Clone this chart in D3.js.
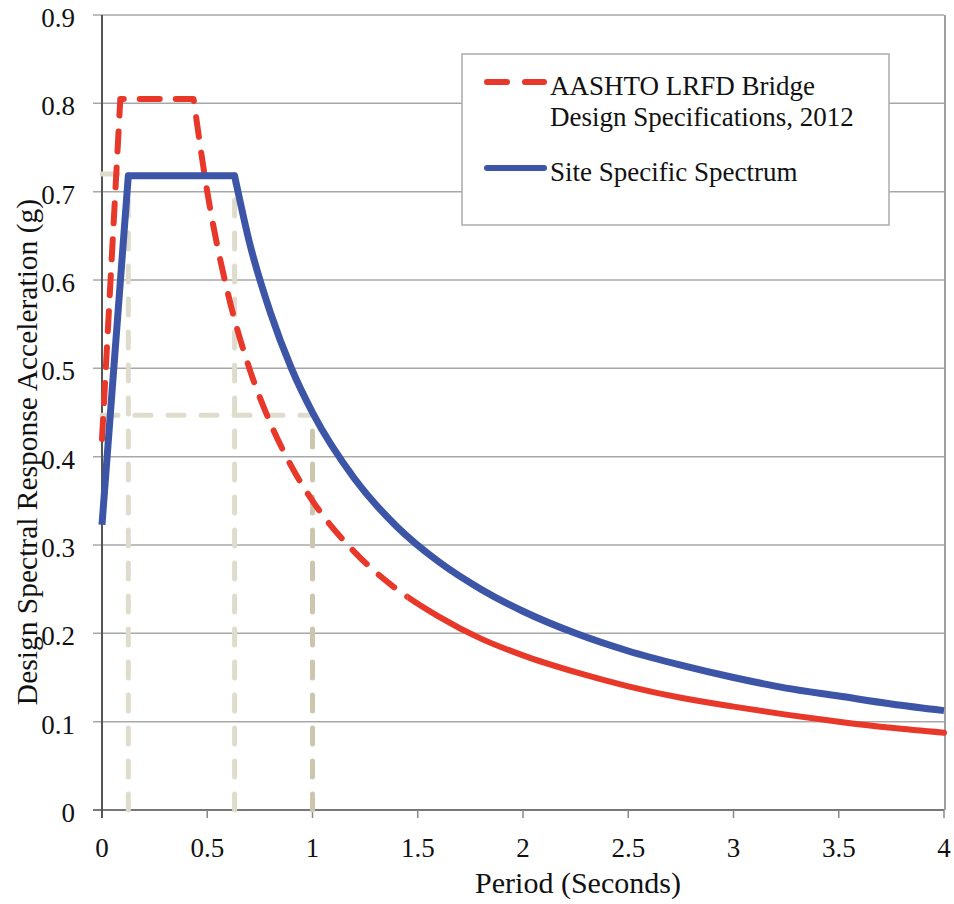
<!DOCTYPE html>
<html>
<head>
<meta charset="utf-8">
<script src="https://cdn.jsdelivr.net/npm/d3@7"></script>
<style>
  body { margin: 0; background: #fff; }
  svg text { font-family: "Liberation Serif", "Times New Roman", serif; fill: #111; }
</style>
</head>
<body>
<div id="chart"></div>
<script>
// Values
const aashtoPeriod = [0, 0.087, 0.435, 0.5, 0.6, 0.7, 0.8, 0.9, 1.0, 1.2, 1.4, 1.6, 1.8, 2.0, 2.25, 2.5, 2.75, 3.0, 3.25, 3.5, 3.75, 4.0];
const aashtoAccel = [0.42, 0.805, 0.805, 0.70, 0.583, 0.50, 0.438, 0.389, 0.35, 0.292, 0.25, 0.219, 0.194, 0.175, 0.156, 0.14, 0.127, 0.117, 0.108, 0.10, 0.093, 0.0875];
const sitePeriod = [0, 0.125, 0.63, 0.7, 0.8, 0.9, 1.0, 1.2, 1.4, 1.6, 1.8, 2.0, 2.25, 2.5, 2.75, 3.0, 3.25, 3.5, 3.75, 4.0];
const siteAccel = [0.323, 0.718, 0.718, 0.643, 0.563, 0.50, 0.45, 0.375, 0.321, 0.281, 0.25, 0.225, 0.20, 0.18, 0.164, 0.15, 0.138, 0.129, 0.12, 0.1125];

// grey reference guides: [x1, y1, x2, y2]
const guideLines = [
  { pts: [0.125, 0, 0.125, 0.72], color: '#dfdccd' },
  { pts: [0.63, 0, 0.63, 0.72], color: '#dfdccd' },
  { pts: [1.0, 0, 1.0, 0.447], color: '#cbc6ad' },
  { pts: [0, 0.447, 1.0, 0.447], color: '#dfdccd' },
  { pts: [0, 0.72, 0.125, 0.72], color: '#dfdccd' }
];

const xTicks = [0, 0.5, 1, 1.5, 2, 2.5, 3, 3.5, 4];
const yTicks = [0, 0.1, 0.2, 0.3, 0.4, 0.5, 0.6, 0.7, 0.8, 0.9];

const legendItems = [
  { lines: ['AASHTO LRFD Bridge', 'Design Specifications, 2012'], color: '#e8382a', dashed: true },
  { lines: ['Site Specific Spectrum'], color: '#3c55a7', dashed: false }
];

const W = 954, H = 904;
const margin = { top: 15, left: 102, right: 10, bottom: 94 };
const width = 842, height = 795;

const svg = d3.select('#chart').append('svg')
  .attr('width', W).attr('height', H);

const g = svg.append('g')
  .attr('transform', `translate(${margin.left},${margin.top})`);

const x = d3.scaleLinear().domain([0, 4]).range([0, width]);
const y = d3.scaleLinear().domain([0, 0.9]).range([height, 0]);

// Horizontal gridlines with little outer ticks on the left
g.append('g').selectAll('line').data(yTicks).join('line')
  .attr('x1', -9).attr('x2', width)
  .attr('y1', d => y(d)).attr('y2', d => y(d))
  .attr('stroke', d => d === 0 ? '#777' : '#a8a8a8')
  .attr('stroke-width', d => d === 0 ? 2 : 1.5);

// right border of plot area
g.append('line')
  .attr('x1', width + 1).attr('x2', width + 1)
  .attr('y1', 0).attr('y2', height)
  .attr('stroke', '#a0a0a0').attr('stroke-width', 2);

// x-axis ticks (down)
g.append('g').selectAll('line').data(xTicks).join('line')
  .attr('x1', d => x(d)).attr('x2', d => x(d))
  .attr('y1', height).attr('y2', height + 8)
  .attr('stroke', '#888').attr('stroke-width', 1.5);

// y axis line
g.append('line')
  .attr('x1', 0).attr('x2', 0)
  .attr('y1', 0).attr('y2', height + 8)
  .attr('stroke', '#555').attr('stroke-width', 2);

// Tick labels
g.append('g').selectAll('text').data(yTicks).join('text')
  .attr('x', -27).attr('y', d => y(d)).attr('dy', '0.45em')
  .attr('text-anchor', 'end')
  .style('font-size', '27px')
  .text(d => d === 0 ? '0' : d.toFixed(1));

g.append('g').selectAll('text').data(xTicks).join('text')
  .attr('x', d => x(d)).attr('y', height + 47)
  .attr('text-anchor', 'middle')
  .style('font-size', '27px')
  .text(d => d3.format('')(d));

// Guide lines
g.append('g').selectAll('line').data(guideLines).join('line')
  .attr('x1', d => x(d.pts[0])).attr('y1', d => y(d.pts[1]))
  .attr('x2', d => x(d.pts[2])).attr('y2', d => y(d.pts[3]))
  .attr('stroke', d => d.color)
  .attr('stroke-width', 5)
  .attr('stroke-dasharray', '16,17')
  .attr('stroke-linecap', 'round');

// Curves: linear rise and plateau, smooth decay after the plateau
function drawSpectrum(periods, accels, plateauEnd, style) {
  const pts = periods.map((p, i) => [p, accels[i]]);
  const lin = d3.line().x(d => x(d[0])).y(d => y(d[1]));
  const smooth = d3.line().x(d => x(d[0])).y(d => y(d[1])).curve(d3.curveMonotoneX);
  const head = pts.filter(d => d[0] <= plateauEnd);
  const tail = pts.filter(d => d[0] >= plateauEnd);
  style.segments(head, tail, lin, smooth);
}

const red = '#e8382a', blue = '#3c55a7';

// AASHTO: dashed up to about T = 1.45, solid beyond
drawSpectrum(aashtoPeriod, aashtoAccel, 0.435, {
  segments(head, tail, lin, smooth) {
    const joinPath = lin(head) + smooth(tail).replace(/^M/, 'L');
    // dashed part drawn on the whole curve but clipped to T <= 1.45
    const clipId = 'clipDash';
    g.append('clipPath').attr('id', clipId).append('rect')
      .attr('x', -10).attr('y', -10).attr('width', x(1.45) + 10).attr('height', height + 20);
    g.append('clipPath').attr('id', 'clipSolid').append('rect')
      .attr('x', x(1.45)).attr('y', -10).attr('width', width - x(1.45) + 10).attr('height', height + 20);
    g.append('path').attr('d', joinPath)
      .attr('clip-path', `url(#${clipId})`)
      .attr('fill', 'none').attr('stroke', red).attr('stroke-width', 6)
      .attr('stroke-dasharray', '20,16').attr('stroke-linecap', 'round')
      .attr('stroke-linejoin', 'round');
    g.append('path').attr('d', joinPath)
      .attr('clip-path', 'url(#clipSolid)')
      .attr('fill', 'none').attr('stroke', red).attr('stroke-width', 6)
      .attr('stroke-linecap', 'round');
  }
});

drawSpectrum(sitePeriod, siteAccel, 0.63, {
  segments(head, tail, lin, smooth) {
    g.append('path').attr('d', lin(head) + smooth(tail).replace(/^M/, 'L'))
      .attr('fill', 'none').attr('stroke', blue).attr('stroke-width', 7)
      .attr('stroke-linejoin', 'round');
  }
});

// Legend
const legend = svg.append('g').attr('transform', 'translate(462,54)');
legend.append('rect')
  .attr('width', 427).attr('height', 171)
  .attr('fill', '#fff').attr('stroke', '#ababab').attr('stroke-width', 1.5);

const rowY = [28, 114];
legendItems.forEach((item, i) => {
  const ly = rowY[i];
  legend.append('line')
    .attr('x1', 25).attr('x2', 82).attr('y1', ly).attr('y2', ly)
    .attr('stroke', item.color).attr('stroke-width', 6)
    .attr('stroke-linecap', 'round')
    .attr('stroke-dasharray', item.dashed ? '20,18' : null);
  item.lines.forEach((t, j) => {
    legend.append('text')
      .attr('x', 88).attr('y', ly + 13 + j * 31)
      .style('font-size', '27px')
      .text(t);
  });
});

// Axis titles
svg.append('text')
  .attr('x', 578).attr('y', 893)
  .attr('text-anchor', 'middle')
  .style('font-size', '30px')
  .text('Period (Seconds)');

svg.append('text')
  .attr('transform', 'translate(37,452) rotate(-90)')
  .attr('text-anchor', 'middle')
  .style('font-size', '29.5px')
  .text('Design Spectral Response Acceleration (g)');
</script>
</body>
</html>
